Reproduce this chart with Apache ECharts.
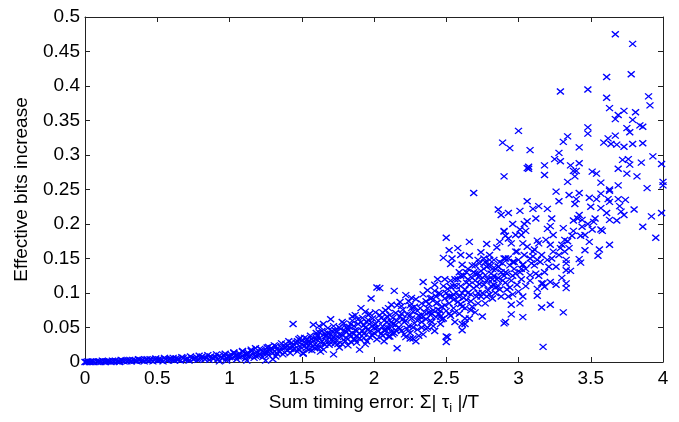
<!DOCTYPE html>
<html>
<head>
<meta charset="utf-8">
<script src="https://cdn.jsdelivr.net/npm/echarts@6/dist/echarts.min.js"></script>
<style>html,body{margin:0;padding:0;background:#fff;}#c{width:679px;height:422px;}</style>
</head>
<body>
<div id="c"></div>
<script>
// Axis ticks
const xTicks = [0, 0.5, 1, 1.5, 2, 2.5, 3, 3.5, 4];
const yTicks = [0, 0.05, 0.1, 0.15, 0.2, 0.25, 0.3, 0.35, 0.4, 0.45, 0.5];
const xLabel = 'Sum timing error: Σ| τ{sub|i} |/T';
const yLabel = 'Effective bits increase';

// Data, [sum timing error, effective bits increase]
const lowBandPoints = [
[0.00,0.000],[0.01,0.000],[0.02,0.001],[0.03,0.000],[0.04,0.000],[0.05,0.001],[0.06,0.000],[0.08,0.001],[0.09,0.000],[0.10,0.001],
[0.11,0.000],[0.13,0.001],[0.14,0.000],[0.15,0.001],[0.17,0.001],[0.18,0.000],[0.20,0.001],[0.21,0.002],[0.23,0.001],[0.24,0.000],
[0.26,0.002],[0.27,0.001],[0.29,0.001],[0.30,0.002],[0.32,0.001],[0.33,0.003],[0.35,0.002],[0.36,0.001],[0.38,0.003],[0.39,0.002],
[0.41,0.001],[0.42,0.003],[0.44,0.002],[0.45,0.004],[0.47,0.001],[0.48,0.003],[0.50,0.002],[0.51,0.004],[0.53,0.003],[0.54,0.001],
[0.56,0.004],[0.57,0.002],[0.59,0.005],[0.60,0.003],[0.62,0.002],[0.63,0.005],[0.65,0.004],[0.66,0.002],[0.68,0.006],[0.69,0.003],
[0.71,0.005],[0.72,0.002],[0.74,0.006],[0.75,0.004],[0.77,0.007],[0.78,0.003],[0.80,0.005],[0.81,0.008],[0.83,0.004],[0.84,0.006],
[0.86,0.003],[0.87,0.008],[0.89,0.005],[0.90,0.007],[0.92,0.004],[0.93,0.009],[0.95,0.006],[0.96,0.010],[0.98,0.005],[0.99,0.008],
[1.01,0.011],[1.02,0.006],[1.04,0.009],[1.05,0.004],[1.07,0.012],[1.08,0.007],[1.10,0.010],[1.11,0.005],[1.13,0.013],[1.14,0.008],
[1.16,0.011],[1.17,0.006],[1.19,0.014],[1.20,0.009],[0.93,0.001],[0.98,0.002],[1.12,0.002],[1.25,0.002],[1.30,0.004]
];
const lowUpperPoints = [
[0.12,0.002],[0.19,0.002],[0.25,0.003],[0.31,0.003],[0.37,0.004],[0.43,0.004],[0.49,0.005],[0.55,0.006],[0.61,0.006],[0.67,0.007],
[0.73,0.008],[0.79,0.009],[0.85,0.010],[0.91,0.011],[0.97,0.012],[1.03,0.014],[1.09,0.016],[1.15,0.018],[1.18,0.020],[0.64,0.004],
[0.70,0.004],[0.76,0.005],[0.82,0.006],[0.88,0.006],[0.94,0.007],[1.00,0.009],[1.06,0.011],[1.12,0.012],[0.40,0.003],[0.46,0.003],
[0.52,0.003],[0.58,0.004],[0.16,0.001],[0.22,0.001],[0.28,0.002],[0.34,0.002]
];
const riseBandPoints = [
[1.21,0.012],[1.22,0.018],[1.23,0.007],[1.25,0.015],[1.26,0.021],[1.27,0.010],[1.28,0.017],[1.30,0.013],[1.31,0.024],[1.32,0.008],
[1.33,0.019],[1.35,0.015],[1.36,0.027],[1.37,0.011],[1.38,0.021],[1.40,0.017],[1.41,0.030],[1.42,0.013],[1.43,0.024],[1.44,0.055],
[1.45,0.019],[1.46,0.028],[1.47,0.015],[1.48,0.033],[1.49,0.022],[1.50,0.026],[1.51,0.012],[1.52,0.035],[1.53,0.020],[1.54,0.029],
[1.55,0.024],[1.56,0.038],[1.57,0.017],[1.58,0.031],[1.59,0.026],[1.60,0.042],[1.61,0.021],[1.62,0.034],[1.63,0.028],[1.64,0.045],
[1.65,0.018],[1.66,0.037],[1.67,0.031],[1.68,0.049],[1.69,0.025],[1.70,0.062],[1.70,0.040],[1.71,0.033],[1.72,0.011],[1.72,0.052],
[1.73,0.027],[1.74,0.044],[1.75,0.036],[1.76,0.021],[1.77,0.048],[1.78,0.039],[1.79,0.056],[1.80,0.030],[1.81,0.043],[1.82,0.024],
[1.83,0.051],[1.84,0.037],[1.85,0.060],[1.86,0.033],[1.87,0.046],[1.88,0.028],[1.89,0.055],[1.90,0.018],[1.90,0.041],[1.91,0.078],
[1.92,0.064],[1.93,0.035],[1.94,0.050],[1.95,0.030],[1.96,0.068],[1.97,0.044],[1.98,0.092],[1.98,0.057],[1.99,0.038],[2.00,0.049],
[1.24,0.011],[1.29,0.020],[1.34,0.016],[1.39,0.022],[1.44,0.018],[1.47,0.030],[1.52,0.023],[1.56,0.027],[1.60,0.033],[1.63,0.022],
[1.66,0.041],[1.69,0.035],[1.73,0.046],[1.76,0.040],[1.79,0.032],[1.82,0.047],[1.85,0.042],[1.88,0.038],[1.92,0.045],[1.95,0.058],
[1.99,0.052],[1.58,0.054],[1.62,0.052],[1.65,0.055],[1.85,0.066],[1.87,0.068],[1.94,0.073],[1.96,0.061],[1.63,0.015],[1.51,0.013]
];
const midBandPoints = [
[2.01,0.072],[2.02,0.108],[2.02,0.033],[2.03,0.060],[2.04,0.107],[2.05,0.041],[2.05,0.064],[2.06,0.052],[2.07,0.030],[2.08,0.046],
[2.08,0.075],[2.09,0.058],[2.10,0.037],[2.11,0.068],[2.11,0.049],[2.12,0.083],[2.13,0.055],[2.14,0.103],[2.14,0.042],[2.15,0.071],
[2.16,0.020],[2.16,0.060],[2.17,0.050],[2.18,0.087],[2.18,0.066],[2.19,0.045],[2.20,0.076],[2.21,0.058],[2.22,0.097],[2.22,0.036],
[2.23,0.069],[2.24,0.052],[2.25,0.042],[2.25,0.082],[2.26,0.063],[2.27,0.034],[2.27,0.073],[2.28,0.056],[2.29,0.091],[2.29,0.030],
[2.30,0.047],[2.31,0.067],[2.32,0.078],[2.33,0.058],[2.34,0.040],[2.34,0.098],[2.35,0.072],[2.36,0.062],[2.37,0.104],[2.37,0.050],
[2.38,0.084],[2.39,0.068],[2.40,0.058],[2.40,0.093],[2.41,0.075],[2.42,0.112],[2.42,0.045],[2.43,0.065],[2.44,0.120],[2.44,0.086],
[2.45,0.070],[2.46,0.098],[2.46,0.055],[2.47,0.080],[2.48,0.063],[2.49,0.092],[2.50,0.029],[2.50,0.074],[2.51,0.036],[2.51,0.106],
[2.52,0.085],[2.53,0.109],[2.53,0.067],[2.54,0.095],[2.55,0.078],[2.56,0.120],[2.56,0.058],[2.57,0.101],[2.58,0.087],[2.59,0.130],
[2.59,0.070],[2.60,0.110],[2.61,0.046],[2.62,0.093],[2.62,0.125],[2.63,0.055],[2.63,0.078],[2.64,0.115],[2.65,0.100],[2.65,0.135],
[2.66,0.063],[2.67,0.088],[2.68,0.122],[2.69,0.107],[2.70,0.140],[2.70,0.072],[2.71,0.095],[2.72,0.128],[2.73,0.113],[2.75,0.100],
[2.76,0.135],[2.77,0.085],[2.78,0.118],[2.79,0.104],[2.80,0.148],[2.81,0.128],[2.82,0.092],[2.83,0.112],[2.84,0.135],[2.85,0.120],
[2.07,0.046],[2.13,0.040],[2.20,0.062],[2.26,0.078],[2.32,0.066],[2.38,0.072],[2.44,0.076],[2.48,0.110],[2.55,0.098],[2.60,0.084],
[2.66,0.112],[2.72,0.100],[2.77,0.126],[2.11,0.037],[2.25,0.034],[2.50,0.037],[2.61,0.055],[2.63,0.063],[2.34,0.116],[2.42,0.103]
];
const denseFillPoints = [
[1.00,0.007],[1.03,0.013],[1.06,0.008],[1.09,0.015],[1.12,0.010],[1.15,0.016],[1.18,0.009],[1.21,0.019],[1.24,0.014],[1.27,0.022],
[1.30,0.018],[1.33,0.012],[1.36,0.021],[1.39,0.026],[1.42,0.019],[1.45,0.024],[1.48,0.018],[1.50,0.031],[1.53,0.027],[1.55,0.018],
[1.57,0.033],[1.59,0.020],[1.61,0.038],[1.64,0.030],[1.66,0.025],[1.68,0.042],[1.70,0.028],[1.72,0.037],[1.74,0.031],[1.76,0.050],
[1.78,0.026],[1.80,0.045],[1.81,0.035],[1.83,0.040],[1.84,0.029],[1.86,0.052],[1.88,0.045],[1.90,0.034],[1.91,0.058],[1.93,0.041],
[1.94,0.026],[1.96,0.048],[1.97,0.036],[1.99,0.063],[2.00,0.042],[2.01,0.055],[2.03,0.045],[2.04,0.068],[2.06,0.038],[2.07,0.060],
[2.09,0.050],[2.10,0.078],[2.12,0.044],[2.13,0.064],[2.15,0.054],[2.16,0.082],[2.18,0.048],[2.19,0.070],[2.21,0.040],[2.22,0.060],
[2.24,0.088],[2.25,0.068],[2.27,0.050],[2.28,0.080],[2.30,0.060],[2.31,0.038],[2.33,0.085],[2.34,0.066],[2.36,0.048],[2.37,0.078],
[2.39,0.092],[2.40,0.070],[2.41,0.052],[2.43,0.085],[2.45,0.100],[2.46,0.074],[2.47,0.062],[2.49,0.082],[2.50,0.100],[2.52,0.070],
[2.53,0.118],[2.55,0.090],[2.56,0.072],[2.57,0.110],[2.59,0.095],[2.60,0.125],[2.61,0.080],[2.63,0.105],[2.64,0.090],[2.65,0.120],
[2.67,0.098],[2.68,0.080],[2.69,0.130],[2.71,0.110],[2.72,0.085],[2.73,0.125],[2.74,0.095],[2.76,0.112],[2.77,0.145],[2.79,0.120],
[2.80,0.098],[2.81,0.140],[2.83,0.125],[2.84,0.108],[2.87,0.145],[2.89,0.118],[2.92,0.128],[2.94,0.108],[2.97,0.145]
];
const extraFillPoints = [
[1.26,0.016],[1.32,0.023],[1.38,0.014],[1.43,0.028],[1.49,0.035],[1.54,0.033],[1.58,0.023],[1.62,0.043],[1.67,0.038],[1.71,0.045],
[1.75,0.026],[1.78,0.058],[1.81,0.050],[1.84,0.055],[1.87,0.032],[1.89,0.062],[1.93,0.053],[1.97,0.070],[2.02,0.050],[2.06,0.072],
[2.09,0.066],[2.12,0.058],[2.15,0.046],[2.19,0.081],[2.23,0.048],[2.26,0.093],[2.30,0.074],[2.33,0.050],[2.36,0.088],[2.39,0.060],
[2.43,0.095],[2.46,0.066],[2.49,0.120],[2.52,0.095],[2.55,0.110],[2.58,0.120],[2.61,0.100],[2.64,0.130],[2.67,0.075],[2.70,0.118],
[2.74,0.132],[2.78,0.095],[2.82,0.120],[2.86,0.110],[2.90,0.125],[2.93,0.095],[2.98,0.128],[3.00,0.102]
];
const coreBandPoints = [
[2.68,0.140],[2.70,0.128],[2.72,0.148],[2.74,0.120],[2.76,0.150],[2.79,0.140],[2.81,0.110],[2.82,0.135],[2.84,0.100],[2.86,0.122],
[2.88,0.095],[2.89,0.143],[2.91,0.130],[2.92,0.105],[2.93,0.150],[2.95,0.118],[2.96,0.098],[2.97,0.135],[2.99,0.112],[3.00,0.148],
[3.02,0.120],[3.04,0.155],[3.05,0.135],[3.08,0.118],[3.10,0.160],[3.11,0.140],[3.13,0.106],[3.14,0.172],[3.16,0.155],[3.18,0.130],
[3.20,0.148],[3.22,0.170],[3.24,0.160],[3.26,0.138],[3.28,0.155],[3.30,0.122],[3.32,0.160],[3.34,0.175],[3.36,0.132],[3.38,0.190],
[2.86,0.138],[2.87,0.105],[2.88,0.130],[2.90,0.150],[2.91,0.115],[2.94,0.140],[2.96,0.125],[2.98,0.160],[3.01,0.130],[3.02,0.135],
[3.03,0.141],[3.05,0.110],[3.08,0.150],[3.12,0.128],[3.15,0.145],[3.44,0.196],[3.48,0.200],[3.50,0.225],[3.58,0.190],[3.68,0.205]
];
const lowerRightPoints = [
[3.17,0.022],[3.31,0.072],[3.22,0.083],[3.16,0.079],[3.13,0.096],[3.03,0.065],[2.95,0.069],[2.90,0.056],[2.91,0.058],[2.75,0.066],
[3.01,0.085],[2.95,0.083],[3.33,0.107],[3.33,0.114],[3.17,0.114],[3.22,0.116],[3.26,0.112],[3.18,0.109],[3.08,0.126],[3.14,0.125],
[3.33,0.133],[3.33,0.143],[3.03,0.095],[3.16,0.114]
];
const upperBandPoints = [
[2.69,0.245],[3.26,0.247],[3.28,0.233],[3.35,0.242],[3.42,0.245],[3.39,0.229],[3.40,0.236],[3.49,0.238],[3.54,0.236],[3.57,0.244],
[3.63,0.248],[3.62,0.236],[3.63,0.232],[3.69,0.236],[3.74,0.235],[3.80,0.221],[3.57,0.223],[3.61,0.216],[3.70,0.226],[3.71,0.218],
[3.73,0.213],[3.99,0.216],[3.92,0.211],[3.06,0.233],[3.14,0.226],[3.10,0.222],[3.20,0.222],[2.86,0.221],[2.88,0.213],[2.93,0.216],
[3.01,0.219],[3.12,0.208],[3.23,0.208],[2.96,0.200],[3.04,0.200],[3.06,0.204],[3.01,0.192],[3.05,0.190],[2.90,0.190],[2.91,0.183],
[3.20,0.193],[3.22,0.197],[3.24,0.184],[3.31,0.194],[3.38,0.205],[3.41,0.208],[3.44,0.206],[3.42,0.213],[3.52,0.203],[3.53,0.208],
[3.63,0.206],[3.57,0.192],[3.51,0.192],[3.37,0.183],[3.43,0.183],[3.46,0.184],[3.32,0.177],[3.49,0.174],[3.63,0.170],[3.86,0.196],
[3.95,0.180],[3.30,0.170],[3.29,0.165],[3.35,0.165],[3.46,0.162],[3.56,0.163],[3.55,0.154],[3.33,0.148],[3.42,0.149],[3.43,0.144],
[3.23,0.150],[2.50,0.180],[2.66,0.174],[2.52,0.162],[2.58,0.165],[2.48,0.151],[2.54,0.150],[2.60,0.155],[2.66,0.154],[2.74,0.159],
[2.78,0.171],[2.80,0.155],[2.85,0.166],[2.87,0.174],[2.90,0.189],[2.93,0.179],[2.95,0.172],[2.98,0.184],[3.02,0.184],[3.03,0.172],
[3.06,0.167],[3.11,0.163],[3.13,0.176],[3.19,0.177],[3.10,0.153],[3.13,0.148],[2.99,0.160],[2.96,0.145],[2.91,0.150],[2.83,0.148],
[2.73,0.143],[2.61,0.141],[2.53,0.142],[2.78,0.138],[2.86,0.138],[3.03,0.141],[3.09,0.143],[3.21,0.138]
];
const topPoints = [
[3.67,0.475],[3.79,0.461],[3.78,0.417],[3.61,0.413],[3.29,0.392],[3.48,0.395],[3.61,0.383],[3.90,0.385],[3.91,0.372],[3.63,0.368],
[3.69,0.358],[3.73,0.364],[3.67,0.352],[3.79,0.351],[3.81,0.362],[3.00,0.335],[3.48,0.340],[3.48,0.331],[3.75,0.339],[3.77,0.333],
[3.84,0.343],[3.86,0.341],[2.89,0.318],[2.94,0.310],[3.34,0.327],[3.31,0.319],[3.08,0.307],[3.42,0.311],[3.62,0.324],[3.59,0.318],
[3.67,0.328],[3.64,0.316],[3.68,0.315],[3.73,0.312],[3.79,0.316],[3.86,0.317],[3.28,0.303],[3.93,0.298],[3.99,0.287],[3.07,0.283],
[3.07,0.280],[3.06,0.281],[3.18,0.285],[3.25,0.294],[3.29,0.291],[3.36,0.285],[3.42,0.288],[3.38,0.277],[3.40,0.277],[3.51,0.276],
[3.54,0.273],[3.72,0.293],[3.76,0.294],[3.77,0.286],[3.85,0.289],[3.69,0.280],[3.75,0.273],[3.82,0.269],[2.90,0.269],[3.18,0.271],
[3.39,0.269],[3.34,0.261],[3.57,0.260],[3.69,0.256],[3.89,0.252],[4.00,0.261],[4.00,0.256],[3.63,0.250]
];

const allPoints = [].concat(lowBandPoints, lowUpperPoints, riseBandPoints, midBandPoints, denseFillPoints,
  extraFillPoints, coreBandPoints, lowerRightPoints, upperBandPoints, topPoints);

const FONT = 'Liberation Sans';
const AX = '#222';
const chart = echarts.init(document.getElementById('c'), null, {renderer: 'canvas'});

function xAx(pos, show) {
  return {
    type: 'value', position: pos, min: xTicks[0], max: xTicks[xTicks.length - 1], interval: 0.5,
    axisLine: {show: true, onZero: false, lineStyle: {color: AX, width: 1}},
    axisTick: {show: true, inside: true, length: 5, lineStyle: {color: AX}},
    axisLabel: {show: show, color: '#000', fontFamily: FONT, fontSize: 19, margin: 7},
    splitLine: {show: false},
    name: show ? xLabel : '', nameLocation: 'middle', nameGap: 23,
    nameTextStyle: {color: '#000', fontFamily: FONT, fontSize: 19,
      rich: {sub: {fontFamily: FONT, fontSize: 13, color: '#000', padding: [12, 0, 0, 0]}}}
  };
}
function yAx(pos, show) {
  return {
    type: 'value', position: pos, min: yTicks[0], max: yTicks[yTicks.length - 1], interval: 0.05,
    axisLine: {show: true, onZero: false, lineStyle: {color: AX, width: 1}},
    axisTick: {show: true, inside: true, length: 5, lineStyle: {color: AX}},
    axisLabel: {show: show, color: '#000', fontFamily: FONT, fontSize: 19, margin: 5},
    splitLine: {show: false},
    name: show ? yLabel : '', nameLocation: 'middle', nameGap: 54, nameRotate: 90,
    nameTextStyle: {color: '#000', fontFamily: FONT, fontSize: 19}
  };
}

chart.setOption({
  animation: false,
  backgroundColor: '#fff',
  grid: {left: 85, right: 16, top: 17, bottom: 60},
  xAxis: [xAx('bottom', true), xAx('top', false)],
  yAxis: [yAx('left', true), yAx('right', false)],
  series: [{
    type: 'scatter',
    xAxisIndex: 0, yAxisIndex: 0,
    data: allPoints,
    symbol: 'path://M0,0L10,10M10,0L0,10',
    symbolSize: [7, 6],
    progressive: 0,
    large: false,
    itemStyle: {color: 'rgba(0,0,0,0)', borderColor: '#0000ff', borderWidth: 1.3, opacity: 1},
    emphasis: {disabled: true}
  }]
});
</script>
</body>
</html>
